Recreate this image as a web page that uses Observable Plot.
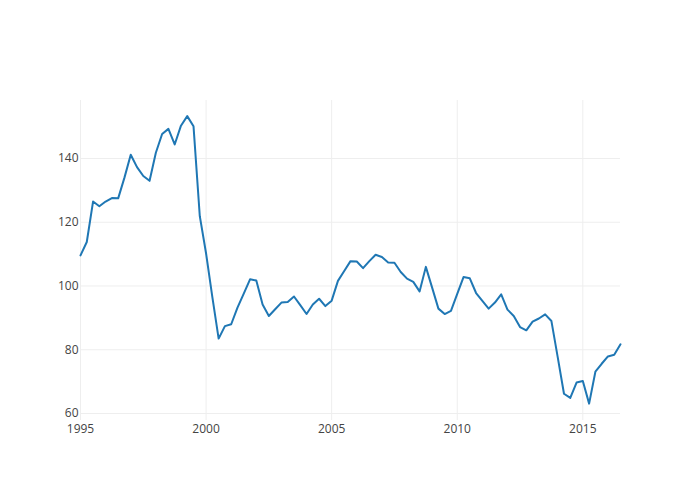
<!DOCTYPE html>
<html>
<head>
<meta charset="utf-8">
<script src="https://cdn.jsdelivr.net/npm/d3@7"></script>
<script src="https://cdn.jsdelivr.net/npm/@observablehq/plot@0.6"></script>
<style>
  html, body { margin: 0; padding: 0; background: #fff; }
  #chart svg { display: block; }
</style>
</head>
<body>
<div id="chart"></div>
<script>
// Quarterly series starting 1995 Q1
const startYear = 1995;
const values = [
  109.6, 113.8, 126.5, 125.0, 126.5, 127.6, 127.5, 134.0,
  141.2, 137.3, 134.5, 133.0, 141.8, 147.7, 149.3, 144.4,
  150.3, 153.3, 150.1, 121.9, 110.2, 96.5, 83.5, 87.4,
  88.0, 93.2, 97.6, 102.1, 101.7, 94.2, 90.6, 92.7,
  94.8, 95.0, 96.7, 94.0, 91.2, 94.2, 96.0, 93.7,
  95.4, 101.6, 104.7, 107.8, 107.7, 105.6, 107.8, 109.8,
  109.1, 107.4, 107.3, 104.4, 102.3, 101.3, 98.3, 106.0,
  99.5, 92.9, 91.2, 92.2, 97.5, 102.8, 102.4, 97.8,
  95.3, 92.9, 94.8, 97.4, 92.6, 90.6, 87.1, 86.1,
  88.8, 89.8, 91.1, 89.0, 77.7, 66.2, 64.9, 69.7,
  70.2, 63.1, 73.1, 75.6, 77.9, 78.4, 81.7
];
const xTicks = [1995, 2000, 2005, 2010, 2015];
const yTicks = [60, 80, 100, 120, 140];

const data = values.map((v, i) => ({ t: startYear + i / 4, v }));

const chart = Plot.plot({
  width: 700,
  height: 500,
  marginTop: 100,
  marginBottom: 80,
  marginLeft: 80,
  marginRight: 80,
  style: { fontFamily: "'Open Sans', sans-serif", fontSize: "12px", color: "#444", background: "#fff" },
  x: { domain: [1995, 2016.5], ticks: xTicks, tickFormat: "d", label: null },
  y: { domain: [57.8, 158.2], ticks: yTicks, label: null },
  marks: [
    Plot.gridX(xTicks, { stroke: "#eeeeee", strokeOpacity: 1, strokeWidth: 1 }),
    Plot.gridY(yTicks, { stroke: "#eeeeee", strokeOpacity: 1, strokeWidth: 1 }),
    Plot.axisX({ ticks: xTicks, tickFormat: "d", tickSize: 0, tickPadding: 4, label: null, fill: "#444" }),
    Plot.axisY({ ticks: yTicks, tickSize: 0, tickPadding: 2, label: null, fill: "#444" }),
    Plot.line(data, { x: "t", y: "v", stroke: "#1f77b4", strokeWidth: 2, strokeLinejoin: "round" })
  ]
});
document.getElementById("chart").appendChild(chart);
</script>
</body>
</html>
